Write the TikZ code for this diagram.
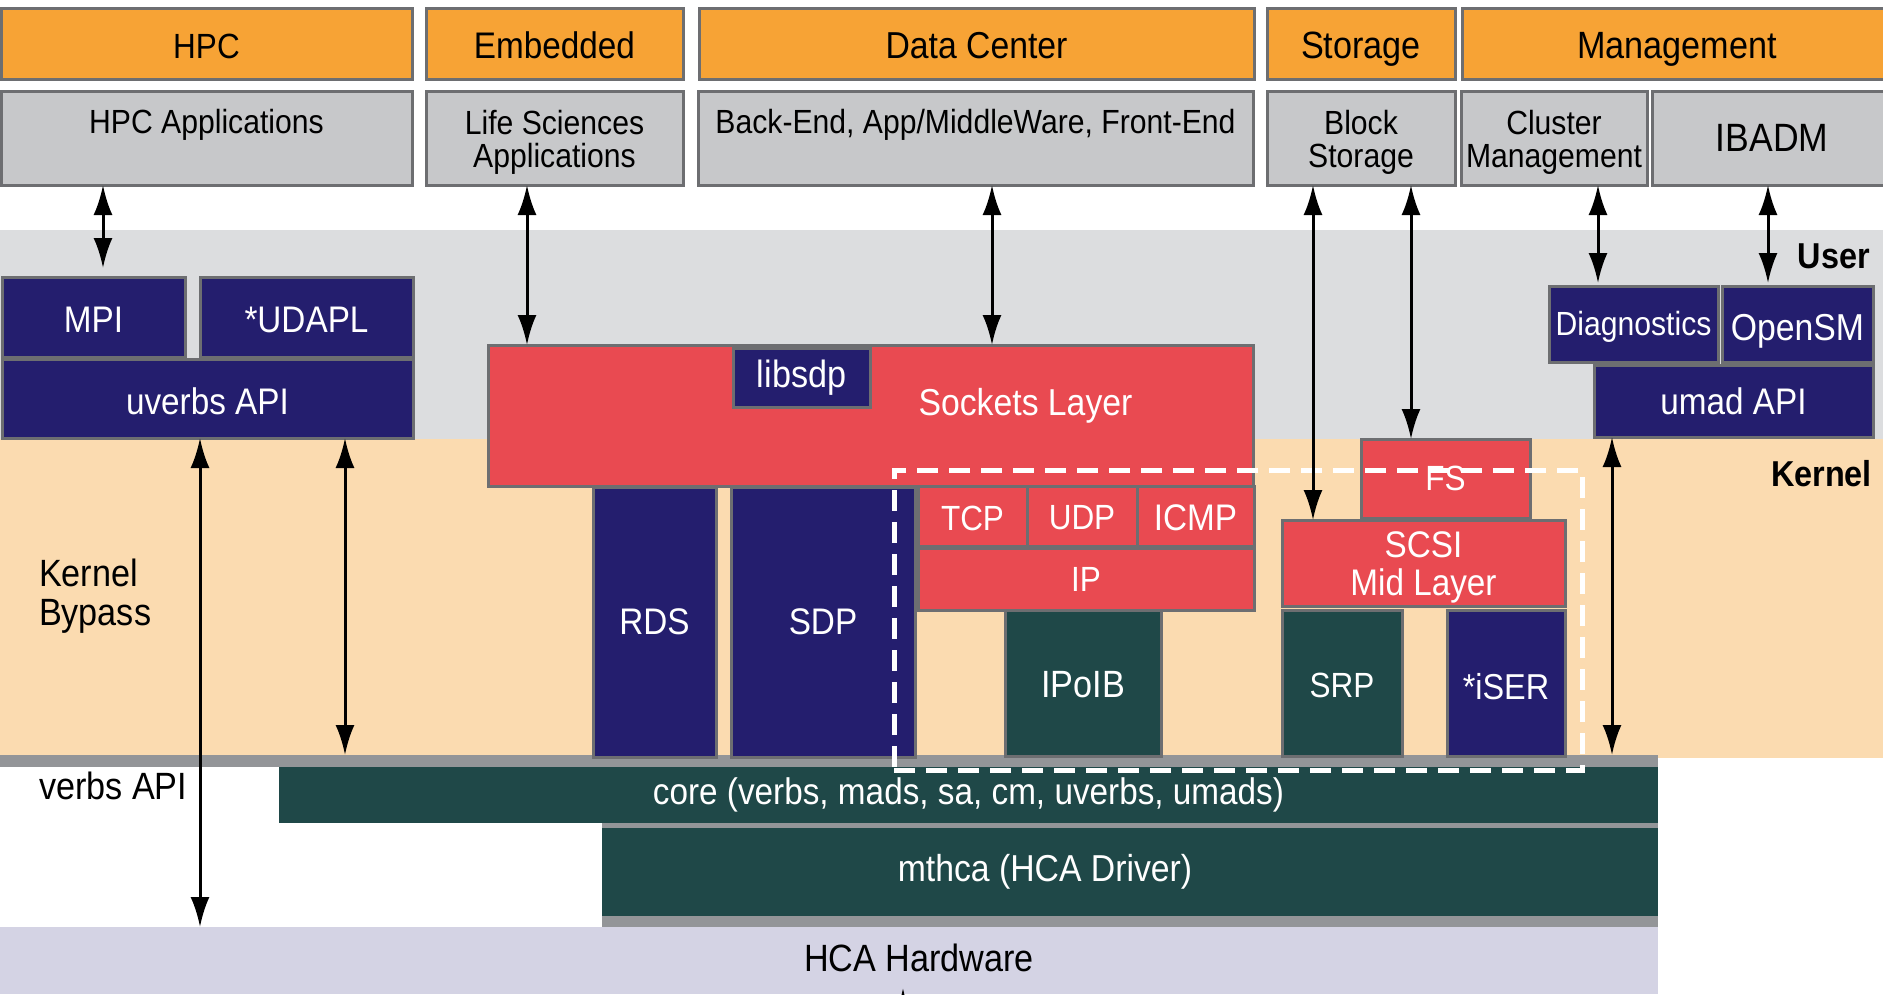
\documentclass[tikz,border=0pt]{standalone}
\usepackage{fontspec}
\setmainfont{Liberation Sans}[FakeStretch=0.9]
\usetikzlibrary{arrows.meta}
\definecolor{cOrange}{HTML}{F7A335}
\definecolor{cApp}{HTML}{C7C8CA}
\definecolor{cUser}{HTML}{DCDDDF}
\definecolor{cKern}{HTML}{FBDBB0}
\definecolor{cNavy}{HTML}{241E6E}
\definecolor{cRed}{HTML}{E94A51}
\definecolor{cTeal}{HTML}{1F4848}
\definecolor{cHw}{HTML}{D4D3E4}
\definecolor{cBar}{HTML}{939598}
\definecolor{cBord}{HTML}{6D6E71}
\newcommand\fsz[2]{\fontsize{#1}{#2}\selectfont}
\newcommand\dn[2]{\raisebox{-#1}[\height][\depth]{#2}}
\newcommand\tp[1]{\rule{0pt}{#1}}
\begin{document}
\begin{tikzpicture}[x=1pt,y=-1pt,
  rect/.style n args={4}{minimum width={#3-#1}, minimum height={#4-#2}, at={({(#1+#3)/2},{(#2+#4)/2})}},
  base/.style={draw=cBord, line width=3pt, inner sep=0pt, outer sep=0pt, align=center},
  orng/.style={base, fill=cOrange, text=black, font=\fsz{38}{40}, text height=32pt, text depth=3pt},
  appg/.style={base, fill=cApp, text=black, font=\fsz{33.5}{33}},
  navyb/.style={base, fill=cNavy, text=white, font=\fsz{37}{38}},
  redb/.style={base, fill=cRed, text=white, font=\fsz{35}{38}},
  tealb/.style={base, fill=cTeal, text=white, font=\fsz{35}{38}},
  plain/.style={inner sep=0pt, outer sep=0pt, align=center},
  dbl/.style={{Latex[length=30pt,width=19pt]}-{Latex[length=30pt,width=19pt]}, line width=3pt},
  uparr/.style={-{Latex[length=30pt,width=19pt]}, line width=3pt},
  dashbox/.style={draw=white, line width=5pt, dash pattern=on 21pt off 11pt, inner sep=0pt, outer sep=0pt}
]
\useasboundingbox (0,0) rectangle (1883,994);
\clip (0,0) rectangle (1883,994);
\fill[white] (0,0) rectangle (1883,994);
% bands
\node[plain, fill=cUser, rect={0}{230}{1883}{439}] (userband) {};
\node[plain, fill=cKern, rect={0}{439}{1883}{758}] (kernband) {};
\node[plain, fill=cBar, rect={0}{755}{1658}{767}] (bar) {};
% lower stack
\node[plain, fill=cTeal, text=white, font=\fsz{37}{38}, rect={279}{767}{1658}{823}] (core) {core (verbs, mads, sa, cm, uverbs, umads)};
\node[plain, fill=cBar, rect={602}{823}{1658}{828}] (bar2) {};
\node[plain, fill=cTeal, rect={602}{828}{1658}{916},
  label={[xshift=-85pt, text=white, font=\fsz{37.5}{38}]center:mthca (HCA Driver)}] (mthca) {};
\node[plain, fill=cBar, rect={602}{916}{1658}{927}] (bar3) {};
\node[plain, fill=cHw, rect={0}{927}{1658}{994},
  label={[xshift=90pt, yshift=3pt, text=black, font=\fsz{38}{38}]center:HCA Hardware}] (hw) {};
% top rows
\node[orng, font=\fsz{35}{38}, rect={1}{8}{412}{79}] (hpc) {HPC};
\node[orng, font=\fsz{37}{38}, rect={426}{8}{683}{79}] (emb) {Embedded};
\node[orng, font=\fsz{37.5}{38}, rect={699}{8}{1254}{79}] (dc) {Data Center};
\node[orng, rect={1267}{8}{1455}{79}] (stor) {Storage};
\node[orng, rect={1462}{8}{1892}{79}] (mgmt) {Management};
\node[appg, rect={1}{91}{412}{185}] (hpcapps) {HPC Applications\\\mbox{}};
\node[appg, rect={426}{91}{683}{185}] (lifesci) {\tp{32.5pt}Life Sciences\\Applications};
\node[appg, rect={698}{91}{1253}{185}] (backend) {Back-End, App/MiddleWare, Front-End\\\mbox{}};
\node[appg, rect={1267}{91}{1455}{185}] (blockst) {\tp{32.5pt}Block\\Storage};
\node[appg, rect={1461}{91}{1647}{185}] (cluster) {\tp{32.5pt}Cluster\\Management};
\node[appg, font=\fsz{39.5}{40}, rect={1652}{91}{1892}{185}] (ibadm) {IBADM};
% user space
\node[navyb, rect={2}{277}{185}{357}] (mpi) {\dn{3pt}{MPI}};
\node[navyb, rect={200}{277}{413}{357}] (udapl) {\dn{3pt}{*UDAPL}};
\node[navyb, rect={2}{359}{413}{438}] (uverbs) {\dn{3pt}{uverbs API}};
\node[navyb, font=\fsz{33.5}{34}, rect={1549}{286}{1718}{362}] (diag) {\dn{3pt}{Diagnostics}};
\node[navyb, font=\fsz{37.5}{38}, rect={1722}{286}{1873}{362}] (opensm) {\dn{7pt}{OpenSM}};
\node[navyb, rect={1594}{365}{1873}{437}] (umad) {umad API};
\node[redb, rect={488}{345}{1253}{486},
  label={[xshift=155pt, yshift=10pt, text=white, font=\fsz{37.5}{38}]center:Sockets Layer}] (sockets) {};
\node[navyb, font=\fsz{38}{38}, rect={733}{348}{870}{407}] (libsdp) {libsdp};
% kernel
\node[navyb, rect={593}{487}{716}{757}] (rds) {RDS};
\node[navyb, rect={731}{487}{915}{757}] (sdp) {SDP};
\node[redb, rect={918}{486}{1027}{546}] (tcp) {\dn{2pt}{TCP}};
\node[redb, rect={1027}{486}{1137}{546}] (udp) {\dn{2pt}{UDP}};
\node[redb, font=\fsz{37}{38}, rect={1137}{486}{1254}{546}] (icmp) {\dn{2pt}{ICMP}};
\node[redb, rect={918}{548}{1254}{610}] (ip) {IP};
\node[tealb, font=\fsz{38}{38}, rect={1005}{610}{1161}{756}] (ipoib) {\dn{2pt}{IPoIB}};
\node[redb, rect={1361}{439}{1530}{518}] (fs) {FS};
\node[redb, font=\fsz{37}{38}, rect={1282}{520}{1565}{606}] (scsi) {\tp{34.5pt}SCSI\\Mid Layer};
\node[tealb, rect={1282}{610}{1402}{756}] (srp) {\dn{2pt}{SRP}};
\node[navyb, font=\fsz{36}{38}, rect={1447}{610}{1565}{756}] (iser) {\dn{4pt}{*iSER}};
% highlight
\node[dashbox, rect={894}{470}{1582}{770}] (hl) {};
% side labels
\node[plain, anchor=east, font=\bfseries\fsz{36}{38}] (user) at (1870,256) {User};
\node[plain, anchor=east, font=\bfseries\fsz{36}{38}] (kernel) at (1872,474) {Kernel};
\node[plain, anchor=north west, align=left, font=\fsz{38}{38.5}] (kb) at (39,559) {Kernel\\Bypass};
\node[plain, anchor=base west, font=\fsz{38}{38}] (vapi) at (39,799) {verbs API};
% arrow x positions
\coordinate (a1) at (103,0);
\coordinate (a2) at (527,0);
\coordinate (a3) at (992,0);
\coordinate (a4) at (1313,0);
\coordinate (a5) at (1411,0);
\coordinate (a6) at (1598,0);
\coordinate (a7) at (1768,0);
\coordinate (a8) at (200,0);
\coordinate (a9) at (345,0);
\coordinate (a10) at (1612,0);
\coordinate (below) at (903,1040);
\draw[dbl, shorten >=9pt] (hpcapps.south -| a1) -- (mpi.north -| a1);
\draw[dbl] (lifesci.south -| a2) -- (sockets.north -| a2);
\draw[dbl] (backend.south -| a3) -- (sockets.north -| a3);
\draw[dbl] (blockst.south -| a4) -- (scsi.north -| a4);
\draw[dbl] (blockst.south -| a5) -- (fs.north -| a5);
\draw[dbl, shorten >=3pt] (cluster.south -| a6) -- (diag.north -| a6);
\draw[dbl, shorten >=3pt] (ibadm.south -| a7) -- (opensm.north -| a7);
\draw[dbl] (uverbs.south -| a8) -- (hw.north -| a8);
\draw[dbl] (uverbs.south -| a9) -- (bar.north -| a9);
\draw[dbl] (umad.south -| a10) -- (bar.north -| a10);
\draw[uparr] (below) -- ([yshift=6pt]hw.south -| below);
\end{tikzpicture}
\end{document}
